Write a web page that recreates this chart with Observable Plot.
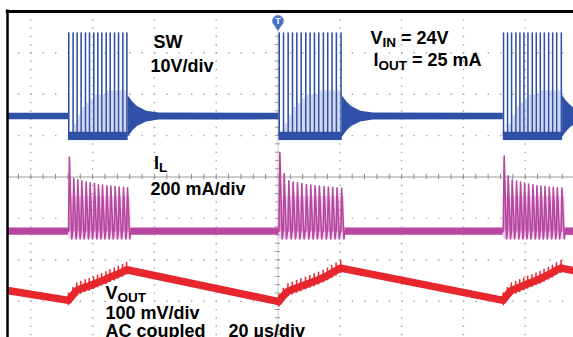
<!DOCTYPE html>
<html><head><meta charset="utf-8">
<script src="https://cdn.jsdelivr.net/npm/d3@7"></script>
<script src="https://cdn.jsdelivr.net/npm/@observablehq/plot@0.6"></script>
<style>html,body{margin:0;padding:0;background:#fff;overflow:hidden} svg{display:block}</style>
</head><body><div id="chart"></div>
<script>
// Time in µs relative to trigger (20 µs/div); vertical in screen divisions.
const xTicks = [-80, -60, -40, -20, 0, 20, 40, 60, 80];
const yTicks = [-3, -2, -1, 1, 2, 3];

// switching pulse times (µs) of the three bursts
const burst1Times = [-67.8,-66.4,-65.1,-63.8,-62.4,-61.1,-59.7,-58.4,-57.1,-55.7,-54.4,-53.0,-51.7,-50.3,-49.0];
const burst2Times = [0.3,1.7,3.2,4.6,6.0,7.4,8.9,10.3,11.7,13.1,14.6,16.0,17.4,18.8,20.3];
const burst3Times = [72.9,74.2,75.5,76.9,78.2,79.5,80.8,82.2,83.5,84.8,86.1,87.5,88.8,90.1,91.6];

// inductor current peaks (mA)
const burst1IL = [360,256,250,245,240,236,232,228,225,222,220,218,216,214,212];
const burst2IL = [382,280,246,240,236,232,228,225,222,220,218,216,214,212,210];
const burst3IL = [365,270,250,244,240,235,230,226,222,220,218,216,214,212,210];

// output voltage (mV, AC coupled) at each pulse
const burst1Vout = [-48,-35,-24,-20,-16,-13,-9,-5,-1,3,8,12,16,21,26];
const burst2Vout = [-51,-37,-26,-22,-18,-14,-10,-6,-2,2,7,12,18,24,30];
const burst3Vout = [-48,-35,-24,-20,-16,-12,-8,-4,0,4,9,14,19,25,30];
const voutStart = -24, voutEnd = 24;

// SW node levels (V)
const swIdle = 4.8, swNoise = 0.8, swHigh = 25, swLowNoise = 1.0;
const swGapRinging = [1,3,5,7,8,9,10,10,10,11,11,11,11,11];
const swRinging = [{dt:0, amp:5.0},{dt:1.5, amp:3.5},{dt:3, amp:2.4},{dt:6, amp:1.3},{dt:10, amp:0.85}];
// IL levels (mA)
const ilNoise = 18, ilUndershoot = -35, ilHaze = 170;

// channel -> screen divisions
const sw = v => 0.98 + v / 10;       // 10 V/div
const il = mA => -1.32 + mA / 200;   // 200 mA/div
const vo = mV => -2.5 + mV / 100;    // 100 mV/div

const tLeft = -87.54, tRight = 95.63;
const pulseW = 0.5;

const bursts = [
  {id: 1, times: burst1Times, il: burst1IL, vout: burst1Vout},
  {id: 2, times: burst2Times, il: burst2IL, vout: burst2Vout},
  {id: 3, times: burst3Times, il: burst3IL, vout: burst3Vout}
];
const last = a => a[a.length - 1];

// SW idle band + ringing after each burst; IL idle band
const swBand = [];
const ilBand = [];
for (let k = 0; k <= bursts.length; k++) {
  const b = k === bursts.length ? tRight : bursts[k].times[0];
  if (k === 0) {
    swBand.push({seg: k, t: tLeft, lo: sw(swIdle - swNoise), hi: sw(swIdle + swNoise)});
    swBand.push({seg: k, t: b, lo: sw(swIdle - swNoise), hi: sw(swIdle + swNoise)});
    ilBand.push({seg: k, t: tLeft}, {seg: k, t: b});
  } else {
    const a = last(bursts[k-1].times) + pulseW;
    for (const r of swRinging) swBand.push({seg: k, t: a + r.dt, lo: sw(swIdle - r.amp), hi: sw(swIdle + r.amp)});
    if (b > a + last(swRinging).dt) swBand.push({seg: k, t: b, lo: sw(swIdle - swNoise), hi: sw(swIdle + swNoise)});
    const ai = last(bursts[k-1].times) + 1.35;
    ilBand.push({seg: k, t: ai}, {seg: k, t: Math.max(b, ai)});
  }
}

const pulses = bursts.flatMap(bu => bu.times.map((t, i) => ({burst: bu.id, i, t, il: bu.il[i], v: bu.vout[i]})));
const gaps = bursts.flatMap(bu => bu.times.slice(0, -1).map((t, i) => ({t1: t + pulseW, t2: bu.times[i+1], lvl: swGapRinging[i]})));
const burstSpans = bursts.map(bu => ({t1: bu.times[0], t2: last(bu.times) + pulseW, t2i: last(bu.times) + 1.35}));

const ilPts = bursts.flatMap(bu => bu.times.flatMap((t, i) => [
  {burst: bu.id, t: t, mA: 0},
  {burst: bu.id, t: t + 0.3, mA: bu.il[i]},
  {burst: bu.id, t: t + 1.05, mA: ilUndershoot},
  {burst: bu.id, t: t + 1.35, mA: 0}
]));

const voutPts = [{t: tLeft, v: voutStart}, ...pulses.map(p => ({t: p.t, v: p.v})), {t: tRight, v: voutEnd}];

const labels = [
  {t: -40.29, y: 3.104, s: "SW"},
  {t: -41.26, y: 2.548, s: "10V/div"},
  {t: 29.94, y: 3.213, s: "V_IN = 24V"},
  {t: 30.91, y: 2.669, s: "I_OUT = 25 mA"},
  {t: -40.13, y: 0.205, s: "I_L"},
  {t: -41.26, y: -0.423, s: "200 mA/div"},
  {t: -55.83, y: -2.935, s: "V_OUT"},
  {t: -55.83, y: -3.442, s: "100 mV/div"},
  {t: -55.83, y: -3.853, s: "AC coupled"},
  {t: -16.02, y: -3.853, s: "20 µs/div"}
];

const minorX = d3.range(-84, 96, 4);
const minorY = d3.range(-3.8, 4.01, 0.2);

const BLUE = "#2f50a6", BLUE_L = "#a9bae3", MAG = "#b8479f", MAG_L = "#d99bd0", RED = "#e7262d", GRID = "#a3a3a3";

const plot = Plot.plot({
  width: 573, height: 337,
  marginTop: 0, marginBottom: 0, marginLeft: 0, marginRight: 0,
  x: {domain: [-89.81, 95.63], axis: null},
  y: {domain: [-3.877, 4.263], axis: null},
  style: {background: "white", fontFamily: "'Liberation Sans', Arial, sans-serif"},
  marks: [
    // dotted graticule
    Plot.ruleX(xTicks.filter(d => d !== 0), {y1: 4, y2: -3.877, stroke: GRID, strokeWidth: 1.4, strokeDasharray: "1.4 6.88"}),
    Plot.ruleY(yTicks, {x1: -84, x2: tRight, stroke: GRID, strokeWidth: 1.4, strokeDasharray: "1.4 10.96"}),
    // center axes with ticks
    Plot.ruleY([0], {x1: tLeft, x2: tRight, stroke: "#9c9c9c", strokeWidth: 1.2}),
    Plot.ruleX(minorX, {y1: -0.065, y2: 0.065, stroke: "#8c8c8c", strokeWidth: 1}),
    Plot.ruleX([0], {y1: 4, y2: -3.877, stroke: "#cdcdcd", strokeWidth: 1}),
    Plot.ruleY(minorY, {x1: -0.8, x2: 0.8, stroke: "#9a9a9a", strokeWidth: 1}),
    // SW trace
    Plot.areaY(swBand, {x: "t", y1: "lo", y2: "hi", z: "seg", fill: BLUE, curve: "linear"}),
    Plot.rect(gaps, {x1: "t1", x2: "t2", y1: sw(0), y2: d => sw(d.lvl), fill: BLUE_L, fillOpacity: 0.55}),
    Plot.rect(burstSpans, {x1: "t1", x2: "t2", y1: sw(-swLowNoise), y2: sw(swLowNoise), fill: BLUE}),
    Plot.rect(pulses, {x1: "t", x2: d => d.t + pulseW, y1: sw(0), y2: sw(swHigh), fill: BLUE}),
    // IL trace
    Plot.areaY(ilBand, {x: "t", y1: il(-ilNoise), y2: il(ilNoise), z: "seg", fill: MAG}),
    Plot.rect(burstSpans, {x1: "t1", x2: "t2i", y1: il(ilUndershoot), y2: il(ilHaze), fill: MAG_L, fillOpacity: 0.4}),
    Plot.areaY(ilPts, {x: "t", y1: il(0), y2: d => il(d.mA), z: "burst", fill: MAG_L, curve: "linear"}),
    Plot.line(ilPts, {x: "t", y: d => il(d.mA), z: "burst", stroke: MAG, strokeWidth: 1.6, curve: "linear"}),
    // VOUT trace
    Plot.line(voutPts, {x: "t", y: d => vo(d.v), stroke: RED, strokeWidth: 7.5, strokeLinecap: "butt", strokeLinejoin: "round", curve: "linear"}),
    Plot.ruleX(pulses, {x: "t", y1: d => vo(d.v - 13), y2: d => vo(d.v + 18), stroke: RED, strokeWidth: 1.5}),
    // frame
    Plot.ruleY([4], {x1: tLeft - 0.4, x2: tRight, stroke: "#000", strokeWidth: 3}),
    Plot.ruleX([tLeft], {y1: 4.036, y2: -3.877, stroke: "#000", strokeWidth: 2.5}),
    // trigger marker
    Plot.dot([0], {x: d => d, y: 3.77, r: 5.6, fill: "#4370c4", stroke: "#7fa0dc", strokeWidth: 0.8}),
    Plot.dot([0], {x: d => d, y: 3.66, r: 3.6, symbol: "triangle", rotate: 180, fill: "#4370c4"}),
    Plot.text([0], {x: d => d, y: 3.77, text: () => "T", fill: "white", fontWeight: "bold", fontSize: 9}),
    // annotations
    Plot.text(labels, {x: "t", y: "y", text: "s", textAnchor: "start", lineAnchor: "bottom", fontSize: 18, fontWeight: "bold", fill: "#000"})
  ]
});

// subscripts, baseline at anchor
const labelSet = new Set(labels.map(d => d.s));
plot.querySelectorAll("text").forEach(el => {
  const s = el.textContent;
  if (!labelSet.has(s)) return;
  while (el.firstChild) el.removeChild(el.firstChild);
  el.setAttribute("y", "0");
  el.removeAttribute("dy");
  const parts = s.split(/_(\w+)/);
  parts.forEach((p, i) => {
    if (!p) return;
    const ts = document.createElementNS("http://www.w3.org/2000/svg", "tspan");
    ts.textContent = p;
    if (i % 2 === 1) { ts.setAttribute("font-size", "13.5"); ts.setAttribute("dy", "3.5"); }
    else if (i > 0) { ts.setAttribute("dy", "-3.5"); }
    el.appendChild(ts);
  });
});

document.getElementById("chart").appendChild(plot);
</script>
</body></html>
